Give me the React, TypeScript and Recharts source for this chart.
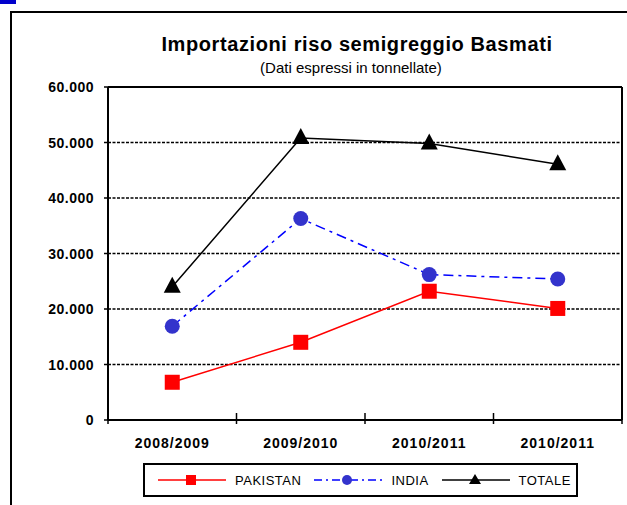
import { LineChart, Line, XAxis, YAxis, CartesianGrid, ReferenceLine } from 'recharts'

const CATEGORIES = ['2008/2009', '2009/2010', '2010/2011', '2010/2011']
const PAKISTAN = [6800, 14000, 23200, 20100]
const INDIA = [16900, 36300, 26200, 25400]
const TOTALE = [24000, 50800, 49800, 46100]
const Y_TICKS = [0, 10000, 20000, 30000, 40000, 50000, 60000]

const FONT = '"Liberation Sans", Arial, sans-serif'
const RED = '#ff0000'
const BLUE = '#0000ff'
const BLUE_DOT = '#3333cc'

// x = category index + 0.5 so boundary ticks can sit on the integers
const chartData = CATEGORIES.map((c, i) => ({
  x: i + 0.5,
  name: c,
  pakistan: PAKISTAN[i],
  india: INDIA[i],
  totale: TOTALE[i],
}))

const xTicks: number[] = []
for (let i = 0; i <= CATEGORIES.length * 2; i++) xTicks.push(i / 2)

const fmtThousands = (v: number) =>
  String(v).replace(/\B(?=(\d{3})+(?!\d))/g, '.')

function XTick(props: any) {
  const { x, y, payload } = props
  const v = payload.value as number
  if (Number.isInteger(v)) {
    return <line x1={x} x2={x} y1={y - 7} y2={y + 4} stroke="#000" strokeWidth={1.5} />
  }
  return (
    <text
      x={x}
      y={y + 28}
      textAnchor="middle"
      fontFamily={FONT}
      fontWeight="bold"
      fontSize={14}
      letterSpacing={1}
      fill="#000"
    >
      {CATEGORIES[Math.floor(v)]}
    </text>
  )
}

function YTick(props: any) {
  const { x, y, payload } = props
  return (
    <text
      x={x}
      y={y + 5}
      textAnchor="end"
      fontFamily={FONT}
      fontWeight="bold"
      fontSize={14}
      letterSpacing={0.5}
      fill="#000"
    >
      {fmtThousands(payload.value)}
    </text>
  )
}

const squareDot = (p: any) => (
  <rect key={`sq-${p.index}`} x={p.cx - 7.5} y={p.cy - 7.5} width={15} height={15} fill={RED} />
)
const circleDot = (p: any) => (
  <circle key={`ci-${p.index}`} cx={p.cx} cy={p.cy} r={7.5} fill={BLUE_DOT} />
)
const triangleDot = (p: any) => (
  <polygon
    key={`tr-${p.index}`}
    points={`${p.cx},${p.cy - 10} ${p.cx - 8.5},${p.cy + 6} ${p.cx + 8.5},${p.cy + 6}`}
    fill="#000"
  />
)

function LegendItem({ color, dash, marker, label }: { color: string; dash?: string; marker: string; label: string }) {
  return (
    <div style={{ display: 'flex', alignItems: 'center' }}>
      <svg width={70} height={16} style={{ display: 'block' }}>
        <line x1={1} x2={69} y1={8} y2={8} stroke={color} strokeWidth={1.5} strokeDasharray={dash} />
        {marker === 'square' && <rect x={29} y={3} width={10} height={10} fill={RED} />}
        {marker === 'circle' && <circle cx={34} cy={8} r={5} fill={BLUE_DOT} />}
        {marker === 'triangle' && <polygon points="34,2 28,12 40,12" fill="#000" />}
      </svg>
      <span style={{ marginLeft: 8, fontSize: 13, letterSpacing: 0.5 }}>{label}</span>
    </div>
  )
}

export default function App() {
  return (
    <div style={{ position: 'absolute', left: 0, top: 0, width: 627, height: 505, background: '#fff', fontFamily: FONT, overflow: 'hidden' }}>
      {/* selection handle */}
      <div style={{ position: 'absolute', left: 0, top: 0, width: 16, height: 4, background: '#0000cc' }} />
      {/* chart area border */}
      <div style={{ position: 'absolute', left: 10, top: 11, width: 640, height: 520, border: '2px solid #000', boxSizing: 'border-box' }} />

      <div style={{ position: 'absolute', left: 0, top: 33, width: 714, textAlign: 'center', fontWeight: 'bold', fontSize: 20, letterSpacing: 0.6, color: '#000' }}>
        Importazioni riso semigreggio Basmati
      </div>
      <div style={{ position: 'absolute', left: 0, top: 59, width: 702, textAlign: 'center', fontSize: 15, color: '#000' }}>
        (Dati espressi in tonnellate)
      </div>

      <div style={{ position: 'absolute', left: 0, top: 0 }}>
        <LineChart width={627} height={505} data={chartData} margin={{ top: 87, right: 5, bottom: 55, left: 0 }}>
          <CartesianGrid vertical={false} stroke="#000" strokeDasharray="3 1.5" strokeWidth={1.5} />
          <XAxis
            dataKey="x"
            type="number"
            domain={[0, CATEGORIES.length]}
            ticks={xTicks}
            interval={0}
            height={30}
            tickLine={false}
            tickSize={0}
            tickMargin={0}
            tick={<XTick />}
            axisLine={{ stroke: '#000', strokeWidth: 2 }}
          />
          <YAxis
            domain={[0, 60000]}
            ticks={Y_TICKS}
            interval={0}
            width={108}
            tickSize={4}
            tickMargin={10}
            tickLine={{ stroke: '#000', strokeWidth: 1.5 }}
            axisLine={{ stroke: '#000', strokeWidth: 2 }}
            tick={<YTick />}
          />
          <ReferenceLine y={60000} stroke="#000" strokeWidth={2} />
          <ReferenceLine x={CATEGORIES.length} stroke="#000" strokeWidth={2} />
          <Line dataKey="pakistan" stroke={RED} strokeWidth={1.5} dot={squareDot} isAnimationActive={false} />
          <Line dataKey="india" stroke={BLUE} strokeWidth={1.5} strokeDasharray="10 5 3 5" dot={circleDot} isAnimationActive={false} />
          <Line dataKey="totale" stroke="#000" strokeWidth={1.5} dot={triangleDot} isAnimationActive={false} />
        </LineChart>
      </div>

      <div
        style={{
          position: 'absolute',
          left: 143,
          top: 463,
          width: 435,
          height: 34,
          border: '2px solid #000',
          boxSizing: 'border-box',
          display: 'flex',
          alignItems: 'center',
          paddingLeft: 12,
          gap: 12,
          color: '#000',
        }}
      >
        <LegendItem color={RED} marker="square" label="PAKISTAN" />
        <LegendItem color={BLUE} dash="8 4 2 4" marker="circle" label="INDIA" />
        <LegendItem color="#000" marker="triangle" label="TOTALE" />
      </div>
    </div>
  )
}
